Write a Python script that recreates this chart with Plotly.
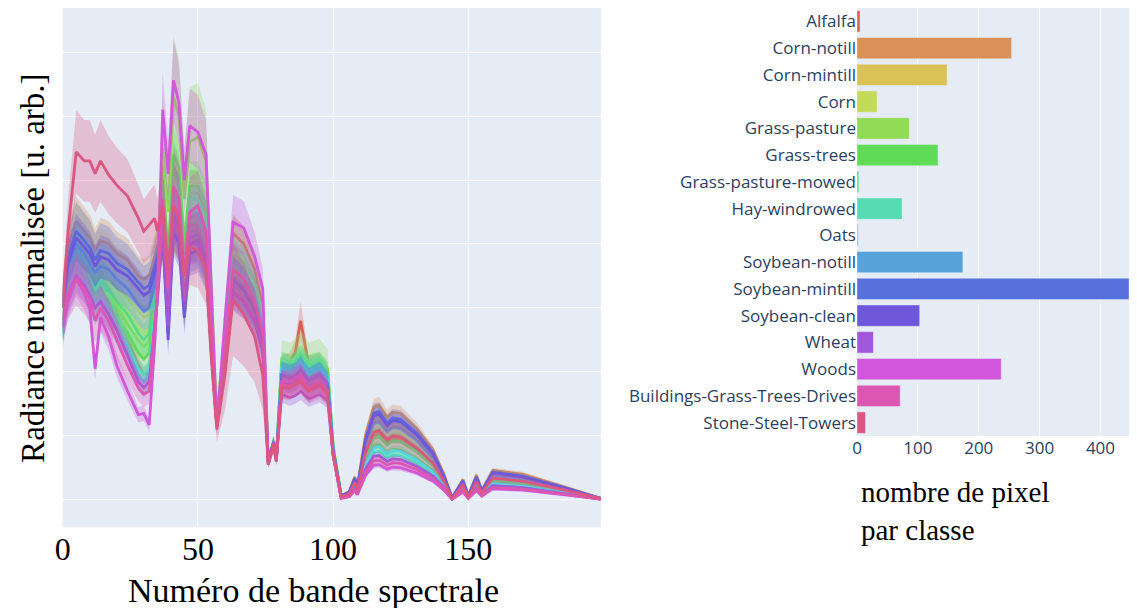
import plotly.graph_objects as go

# ---------------- data ----------------
CLASSES = ["Alfalfa", "Corn-notill", "Corn-mintill", "Corn", "Grass-pasture",
           "Grass-trees", "Grass-pasture-mowed", "Hay-windrowed", "Oats",
           "Soybean-notill", "Soybean-mintill", "Soybean-clean", "Wheat",
           "Woods", "Buildings-Grass-Trees-Drives", "Stone-Steel-Towers"]

PIXEL_COUNTS = [5, 254, 148, 33, 86, 133, 3, 74, 2, 174, 447, 103, 27, 237, 71, 14]

BANDS = [0, 2, 5, 8, 10, 12, 14, 17, 20, 24, 28, 30, 32, 34, 35,
         37, 39, 41, 43, 45, 47, 50, 53, 55,
         57, 60, 63, 67, 71, 74, 76, 78, 79,
         81, 84, 86, 88, 91, 95, 98, 100,
         103, 106, 108, 109, 112, 115, 117, 120, 122, 125, 131, 137, 141,
         144, 148, 150, 153, 155, 159, 170, 185, 199]

X_TICKS = [0, 50, 100, 150]
BAR_TICKS = [0, 100, 200, 300, 400]

MEAN_ALFALFA = [30, 35, 38, 36.5, 35, 33, 34, 32, 29, 25, 21, 19.5, 20, 31, 35,
                48, 36, 52, 50, 38, 48, 48, 45, 28,
                12, 26, 41.7, 40, 36, 30, 6, 9, 6.5,
                21, 21.5, 23, 28, 21, 21.5, 19.5, 8,
                0.5, 0.9, 2.6, 1.5, 7, 10, 10.3, 9, 9.6, 9.5, 7.8, 5.5, 2.8,
                0.3, 2.3, 0.5, 2.7, 1, 3.2, 2.8, 1.5, 0.2]
STD_ALFALFA = [2, 2.5, 2.7, 2.6, 2.5, 2.3, 2.4, 2.2, 2, 1.8, 1.5, 1.4, 1.4, 2.2, 2.5,
               3.4, 2.5, 3.6, 3.5, 2.7, 3.4, 3.4, 3.2, 2,
               0.8, 1.8, 2.9, 2.8, 2.5, 2.1, 0.5, 0.6, 0.5,
               1.5, 1.5, 2, 3, 1.5, 1.5, 1.4, 0.6,
               0.1, 0.2, 0.3, 0.2, 0.6, 0.8, 0.8, 0.7, 0.8, 0.8, 0.6, 0.4, 0.3,
               0.1, 0.2, 0.1, 0.2, 0.1, 0.3, 0.2, 0.1, 0.1]

MEAN_CORN_NOTILL = [32, 39.5, 43.5, 42, 41, 39, 40.5, 40, 38.5, 37.5, 35, 34.5, 35, 38, 39.5,
                    42, 27, 43, 41, 30, 41, 42, 39, 24,
                    12, 21, 35, 33, 30, 25, 6, 9, 6.5,
                    19.5, 19, 19.5, 20.5, 18.7, 19.6, 18, 7.8,
                    0.6, 1.3, 3.6, 2.2, 10.2, 14.5, 14.8, 12.9, 13.7, 13.5, 11.1, 7.8, 4,
                    0.3, 3.2, 0.6, 3.9, 1.5, 4.6, 4, 2.1, 0.2]
STD_CORN_NOTILL = [2.9, 3.6, 3.9, 3.8, 3.7, 3.5, 3.6, 3.6, 3.5, 3.4, 3.2, 3.1, 3.2, 3.4, 3.6,
                   3.8, 2.4, 3.9, 3.7, 2.7, 3.7, 3.8, 3.5, 2.2,
                   1, 1.9, 3.2, 3, 2.7, 2.3, 0.5, 0.8, 0.6,
                   1.8, 1.7, 1.8, 1.8, 1.7, 1.8, 1.6, 0.7,
                   0.1, 0.2, 0.4, 0.3, 0.9, 1.3, 1.3, 1.2, 1.2, 1.2, 1, 0.7, 0.4,
                   0.1, 0.3, 0.1, 0.4, 0.2, 0.4, 0.4, 0.2, 0.1]

MEAN_CORN_MINTILL = [31, 37, 40.5, 39, 38, 36, 37, 36, 34.5, 33, 31, 30, 30.5, 35, 37,
                     41, 26, 42, 40.5, 29, 40, 41.4, 38, 23,
                     12, 21, 33.6, 32, 29, 24.5, 6, 9, 6.5,
                     20, 19.5, 19.8, 20.8, 19, 20, 18.4, 8,
                     0.6, 1.1, 3.2, 1.9, 9, 12.8, 13.1, 11.4, 12.2, 12, 9.9, 6.9, 3.5,
                     0.3, 2.9, 0.6, 3.4, 1.3, 4.1, 3.5, 1.9, 0.2]
STD_CORN_MINTILL = [4.5, 5.5, 6, 5.9, 5.7, 5.4, 5.5, 5.4, 5.2, 5, 4.6, 4.5, 4.6, 5.2, 5.5,
                    3.3, 2.1, 3.4, 3.2, 2.3, 3.2, 3.3, 3, 1.8,
                    1, 1.7, 2.7, 2.6, 2.3, 2, 0.5, 0.7, 0.5,
                    1.6, 1.6, 1.6, 1.7, 1.5, 1.6, 1.5, 0.6,
                    0.1, 0.2, 0.3, 0.2, 0.7, 1, 1, 0.9, 1, 1, 0.8, 0.6, 0.3,
                    0.1, 0.2, 0.1, 0.3, 0.1, 0.3, 0.3, 0.2, 0.1]

MEAN_CORN = [30, 36, 39.5, 38, 36.5, 34.5, 35.5, 34.5, 33, 31.5, 29.5, 28.5, 29, 34, 36,
             44, 30, 46, 44, 33, 43, 43.5, 40, 25,
             12, 22.5, 36, 34.5, 31, 26, 6, 9, 6.5,
             20.5, 20, 20.3, 21.3, 19.6, 20.5, 19, 8.2,
             0.5, 1.1, 3.1, 1.8, 8.6, 12.2, 12.4, 10.8, 11.5, 11.3, 9.4, 6.6, 3.3,
             0.3, 2.7, 0.5, 3.2, 1.3, 3.9, 3.3, 1.8, 0.2]
STD_CORN = [3, 3.6, 4, 3.8, 3.7, 3.5, 3.6, 3.5, 3.3, 3.2, 3, 2.9, 2.9, 3.4, 3.6,
            4.4, 3, 4.6, 4.4, 3.3, 4.3, 4.4, 4, 2.5,
            1.2, 2.3, 3.6, 3.5, 3.1, 2.6, 0.6, 0.9, 0.7,
            2, 2, 2, 2.1, 2, 2, 1.9, 0.8,
            0.1, 0.2, 0.3, 0.2, 0.9, 1.2, 1.2, 1.1, 1.2, 1.1, 0.9, 0.7, 0.3,
            0.1, 0.3, 0.1, 0.3, 0.1, 0.4, 0.3, 0.2, 0.1]

MEAN_GRASS_PASTURE = [28, 34, 39, 37, 35, 33, 34, 32, 30, 27.5, 25, 24, 25, 33, 37,
                      55, 45, 63, 60, 47, 56, 56.7, 53, 33,
                      12.5, 27, 38.5, 37, 34, 29, 6.2, 9.2, 6.8,
                      22, 21.5, 22, 23, 21.5, 22, 20.5, 8.5,
                      0.5, 1, 2.7, 1.6, 7.6, 10.8, 11, 9.6, 10.2, 10.1, 8.3, 5.8, 3,
                      0.2, 2.4, 0.5, 2.9, 1.1, 3.4, 2.9, 1.6, 0.2]
STD_GRASS_PASTURE = [2.8, 3.4, 3.9, 3.7, 3.5, 3.3, 3.4, 3.2, 3, 2.8, 2.5, 2.4, 2.5, 3.3, 3.7,
                     8, 6.5, 9.5, 9, 7, 8.4, 8.5, 8, 5,
                     1.5, 4, 5.8, 5.5, 5, 4.3, 0.8, 1.3, 0.9,
                     3, 3, 3.2, 3.4, 3.1, 3.2, 3, 1.2,
                     0.1, 0.1, 0.3, 0.2, 0.8, 1.1, 1.1, 1, 1, 1, 0.8, 0.6, 0.3,
                     0.1, 0.2, 0.1, 0.3, 0.1, 0.3, 0.3, 0.2, 0.1]

MEAN_GRASS_TREES = [27, 33, 38, 36, 34, 32, 33, 31, 28.5, 26, 23, 22, 23, 31, 35,
                    50, 38, 54, 52, 40, 49, 49, 46, 28,
                    12.5, 25, 37, 35.5, 32, 27, 6, 9, 6.5,
                    21.5, 21, 21.5, 22.5, 21, 21.5, 20, 8.3,
                    0.4, 0.8, 2.1, 1.2, 5.9, 8.4, 8.6, 7.4, 7.9, 7.8, 6.4, 4.5, 2.3,
                    0.2, 1.9, 0.4, 2.2, 0.9, 2.7, 2.3, 1.2, 0.1]
STD_GRASS_TREES = [2.2, 2.6, 3, 2.9, 2.7, 2.6, 2.6, 2.5, 2.3, 2.1, 1.8, 1.8, 1.8, 2.5, 2.8,
                   4, 3, 4.3, 4.2, 3.2, 3.9, 3.9, 3.7, 2.2,
                   1, 2, 3, 2.8, 2.6, 2.2, 0.5, 0.7, 0.5,
                   1.7, 1.7, 1.7, 1.8, 1.7, 1.7, 1.6, 0.7,
                   0.1, 0.1, 0.2, 0.1, 0.5, 0.7, 0.7, 0.6, 0.6, 0.6, 0.5, 0.4, 0.2,
                   0.1, 0.2, 0.1, 0.2, 0.1, 0.2, 0.2, 0.1, 0.1]

MEAN_GRASS_MOWED = [28, 34, 38.5, 37, 35.5, 33.5, 34.5, 33, 31, 29, 26, 25, 26, 33, 36,
                    48, 35, 51, 49, 37, 47, 47, 44, 27,
                    12.5, 24, 37.5, 36, 32.5, 27.5, 6, 9, 6.5,
                    21, 20.5, 21, 22, 20.5, 21, 19.5, 8.2,
                    0.4, 0.9, 2.4, 1.4, 6.8, 9.7, 9.9, 8.6, 9.2, 9.1, 7.5, 5.3, 2.7,
                    0.2, 2.2, 0.4, 2.6, 1, 3.1, 2.7, 1.4, 0.1]
STD_GRASS_MOWED = [2.8, 3.4, 3.9, 3.7, 3.6, 3.4, 3.5, 3.3, 3.1, 2.9, 2.6, 2.5, 2.6, 3.3, 3.6,
                   4.8, 3.5, 5.1, 4.9, 3.7, 4.7, 4.7, 4.4, 2.7,
                   1.2, 2.4, 3.8, 3.6, 3.3, 2.8, 0.6, 0.9, 0.7,
                   2.1, 2.1, 2.1, 2.2, 2.1, 2.1, 2, 0.8,
                   0.1, 0.1, 0.2, 0.1, 0.7, 1, 1, 0.9, 0.9, 0.9, 0.8, 0.5, 0.3,
                   0.1, 0.2, 0.1, 0.3, 0.1, 0.3, 0.3, 0.1, 0.1]

MEAN_HAY = [26, 32, 37, 35, 33, 31, 32, 30, 27, 24, 20.5, 19.5, 20.5, 29, 33,
            47, 34, 49, 47, 36, 45, 45, 42, 26,
            12, 23.5, 36, 34.5, 31, 26, 6, 9, 6.5,
            20.5, 20, 20.3, 21.3, 19.8, 20.5, 19, 8,
            0.3, 0.7, 1.9, 1.1, 5.2, 7.4, 7.6, 6.6, 7, 6.9, 5.7, 4, 2,
            0.2, 1.7, 0.3, 2, 0.8, 2.4, 2, 1.1, 0.1]
STD_HAY = [1.8, 2.2, 2.6, 2.5, 2.3, 2.2, 2.2, 2.1, 1.9, 1.7, 1.4, 1.4, 1.4, 2, 2.3,
           3.3, 2.4, 3.4, 3.3, 2.5, 3.2, 3.2, 2.9, 1.8,
           0.8, 1.6, 2.5, 2.4, 2.2, 1.8, 0.4, 0.6, 0.5,
           1.4, 1.4, 1.4, 1.5, 1.4, 1.4, 1.3, 0.6,
           0.1, 0.1, 0.1, 0.1, 0.4, 0.5, 0.5, 0.5, 0.5, 0.5, 0.4, 0.3, 0.1,
           0.1, 0.1, 0.1, 0.1, 0.1, 0.2, 0.1, 0.1, 0.1]

MEAN_OATS = [26, 32, 36.5, 34.5, 32.5, 30.5, 31.5, 29.5, 27, 23.5, 19.5, 18.5, 19.5, 28, 32,
             46, 32, 48, 46, 35, 44, 45, 42, 26,
             12, 23.5, 37, 35.5, 32, 27, 6, 9, 6.5,
             20.5, 20, 20.5, 21.5, 20, 20.5, 19, 8,
             0.4, 0.7, 2, 1.2, 5.7, 8.1, 8.3, 7.2, 7.7, 7.6, 6.2, 4.4, 2.2,
             0.2, 1.8, 0.4, 2.2, 0.8, 2.6, 2.2, 1.2, 0.1]
STD_OATS = [2.6, 3.2, 3.7, 3.5, 3.3, 3.1, 3.2, 3, 2.7, 2.4, 2, 1.9, 2, 2.8, 3.2,
            4.6, 3.2, 4.8, 4.6, 3.5, 4.4, 4.5, 4.2, 2.6,
            1.2, 2.4, 3.7, 3.6, 3.2, 2.7, 0.6, 0.9, 0.7,
            2.1, 2, 2.1, 2.2, 2, 2.1, 1.9, 0.8,
            0.1, 0.1, 0.2, 0.1, 0.6, 0.8, 0.8, 0.7, 0.8, 0.8, 0.6, 0.4, 0.2,
            0.1, 0.2, 0.1, 0.2, 0.1, 0.3, 0.2, 0.1, 0.1]

MEAN_SOY_NOTILL = [30, 36.5, 40, 38.5, 37, 35.5, 36.5, 36, 34.5, 33, 30.5, 29.5, 30, 34, 36,
                   43, 28, 45, 43, 31, 41, 41.5, 38, 24,
                   12, 22, 34.5, 33, 30, 25.5, 6, 9, 6.5,
                   19.5, 19.2, 19.5, 20.4, 18.8, 19.6, 18.2, 7.8,
                   0.5, 1.1, 3, 1.8, 8.4, 11.9, 12.1, 10.6, 11.3, 11.1, 9.2, 6.4, 3.3,
                   0.3, 2.6, 0.5, 3.2, 1.2, 3.8, 3.3, 1.8, 0.2]
STD_SOY_NOTILL = [3, 3.7, 4, 3.9, 3.7, 3.6, 3.7, 3.6, 3.5, 3.3, 3.1, 3, 3, 3.4, 3.6,
                  4.3, 2.8, 4.5, 4.3, 3.1, 4.1, 4.2, 3.8, 2.4,
                  1.2, 2.2, 3.5, 3.3, 3, 2.6, 0.6, 0.9, 0.7,
                  2, 1.9, 2, 2, 1.9, 2, 1.8, 0.8,
                  0.1, 0.1, 0.3, 0.2, 0.8, 1.2, 1.2, 1.1, 1.1, 1.1, 0.9, 0.6, 0.3,
                  0.1, 0.3, 0.1, 0.3, 0.1, 0.4, 0.3, 0.2, 0.1]

MEAN_SOY_MINTILL = [31, 38, 42, 40.5, 39.5, 37.5, 39, 38.5, 37, 36, 34, 33, 33.5, 36.5, 38,
                    43, 26, 44.5, 42, 30, 40, 40.6, 37.5, 24,
                    12, 22, 34.4, 32.8, 29.7, 25, 6, 9, 6.5,
                    19.5, 19, 19.3, 20.3, 18.6, 19.5, 18, 7.8,
                    0.6, 1.2, 3.4, 2, 9.5, 13.5, 13.8, 12, 12.8, 12.6, 10.4, 7.3, 3.7,
                    0.3, 3, 0.6, 3.6, 1.4, 4.3, 3.7, 2, 0.2]
STD_SOY_MINTILL = [3.4, 4.2, 4.6, 4.5, 4.3, 4.1, 4.3, 4.2, 4.1, 4, 3.7, 3.6, 3.7, 4, 4.2,
                   4.7, 2.9, 4.9, 4.6, 3.3, 4.4, 4.5, 4.1, 2.6,
                   1.3, 2.4, 3.8, 3.6, 3.3, 2.8, 0.7, 1, 0.7,
                   2.1, 2.1, 2.1, 2.2, 2, 2.1, 2, 0.9,
                   0.1, 0.1, 0.4, 0.2, 1, 1.5, 1.5, 1.3, 1.4, 1.4, 1.1, 0.8, 0.4,
                   0.1, 0.3, 0.1, 0.4, 0.2, 0.5, 0.4, 0.2, 0.1]

MEAN_SOY_CLEAN = [30, 37, 41, 39.5, 38.5, 36.5, 38, 37.5, 36, 35, 33, 32, 32.5, 35.5, 37,
                  41, 25, 42, 40, 28.5, 38.5, 39, 36, 23,
                  11.5, 20.5, 32.5, 31, 28, 23.5, 5.8, 8.8, 6.3,
                  18.5, 18, 18.3, 19.2, 17.6, 18.5, 17, 7.4,
                  0.6, 1.2, 3.3, 1.9, 9.2, 13.1, 13.4, 11.6, 12.4, 12.2, 10.1, 7.1, 3.6,
                  0.3, 2.9, 0.6, 3.5, 1.4, 4.2, 3.6, 1.9, 0.2]
STD_SOY_CLEAN = [2.7, 3.3, 3.7, 3.6, 3.5, 3.3, 3.4, 3.4, 3.2, 3.2, 3, 2.9, 2.9, 3.2, 3.3,
                 3.7, 2.3, 3.8, 3.6, 2.6, 3.5, 3.5, 3.2, 2.1,
                 1, 1.8, 2.9, 2.8, 2.5, 2.1, 0.5, 0.8, 0.6,
                 1.7, 1.6, 1.6, 1.7, 1.6, 1.7, 1.5, 0.7,
                 0.1, 0.1, 0.3, 0.2, 0.8, 1.2, 1.2, 1, 1.1, 1.1, 0.9, 0.6, 0.3,
                 0.1, 0.3, 0.1, 0.3, 0.1, 0.4, 0.3, 0.2, 0.1]

MEAN_WHEAT = [27, 32, 35, 33.5, 32, 30, 31, 29, 26.5, 22.5, 18.5, 17.5, 18.5, 27, 31,
              42, 27, 44, 42, 31, 40, 40, 37, 23,
              11.5, 20.5, 32.5, 31, 28, 23.5, 5.8, 8.8, 6.3,
              16.5, 16, 16.3, 17, 15.8, 16.5, 15.5, 7,
              0.3, 0.6, 1.7, 1, 4.8, 6.8, 6.9, 6, 6.4, 6.3, 5.2, 3.7, 1.9,
              0.2, 1.5, 0.3, 1.8, 0.7, 2.2, 1.9, 1, 0.1]
STD_WHEAT = [2.2, 2.6, 2.8, 2.7, 2.6, 2.4, 2.5, 2.3, 2.1, 1.8, 1.5, 1.4, 1.5, 2.2, 2.5,
             3.4, 2.2, 3.5, 3.4, 2.5, 3.2, 3.2, 3, 1.8,
             0.9, 1.6, 2.6, 2.5, 2.2, 1.9, 0.5, 0.7, 0.5,
             1.3, 1.3, 1.3, 1.4, 1.3, 1.3, 1.2, 0.6,
             0.1, 0.1, 0.1, 0.1, 0.4, 0.5, 0.6, 0.5, 0.5, 0.5, 0.4, 0.3, 0.2,
             0.1, 0.1, 0.1, 0.1, 0.1, 0.2, 0.2, 0.1, 0.1]

MEAN_WOODS = [27, 31, 34.5, 32.3, 30, 20.5, 28.5, 25.5, 21, 17, 13.3, 13.5, 11.7, 24, 32,
              61, 51, 65.6, 62, 50, 58.5, 57.5, 54, 34,
              11.5, 28, 43.4, 42.5, 38, 33, 5.5, 8.5, 6,
              18.5, 18.5, 19, 19.5, 17.5, 18.5, 17, 7,
              0.2, 0.5, 1.4, 0.8, 3.8, 5.4, 5.5, 4.8, 5.1, 5, 4.2, 2.9, 1.5,
              0.1, 1.2, 0.2, 1.4, 0.6, 1.7, 1.5, 0.8, 0.1]
STD_WOODS = [2.2, 2.5, 2.8, 2.6, 2.4, 1.8, 2.3, 2.1, 1.8, 1.5, 1.2, 1.2, 1.1, 2.2, 2.8,
             6, 5, 6.5, 6.2, 5, 5.8, 5.8, 5.4, 3.4,
             1.1, 2.8, 4.3, 4.2, 3.8, 3.3, 0.5, 0.8, 0.6,
             1.8, 1.8, 1.9, 1.9, 1.7, 1.8, 1.7, 0.7,
             0.1, 0.1, 0.1, 0.1, 0.3, 0.5, 0.5, 0.4, 0.5, 0.5, 0.4, 0.3, 0.1,
             0.1, 0.1, 0.1, 0.1, 0.1, 0.2, 0.1, 0.1, 0.1]

MEAN_BUILDINGS = [28, 32, 34.5, 33, 31.5, 28, 30, 28, 25, 21, 17.5, 16.5, 17, 27, 32,
                  47, 33, 49, 47, 35, 45, 46, 42, 26,
                  11.5, 23, 36, 34.5, 31, 26, 5.8, 8.8, 6.3,
                  18, 17.8, 18.2, 19, 17.2, 18, 16.8, 7.2,
                  0.3, 0.5, 1.5, 0.9, 4.3, 6.1, 6.2, 5.4, 5.8, 5.7, 4.7, 3.3, 1.7,
                  0.1, 1.3, 0.3, 1.6, 0.6, 1.9, 1.7, 0.9, 0.1]
STD_BUILDINGS = [3.4, 3.8, 4.1, 4, 3.8, 3.4, 3.6, 3.4, 3, 2.5, 2.1, 2, 2, 3.2, 3.8,
                 5.6, 4, 5.9, 5.6, 4.2, 5.4, 5.5, 5, 3.1,
                 1.4, 2.8, 4.3, 4.1, 3.7, 3.1, 0.7, 1.1, 0.8,
                 2.2, 2.1, 2.2, 2.3, 2.1, 2.2, 2, 0.9,
                 0.1, 0.1, 0.2, 0.1, 0.5, 0.7, 0.7, 0.6, 0.7, 0.7, 0.6, 0.4, 0.2,
                 0.1, 0.2, 0.1, 0.2, 0.1, 0.2, 0.2, 0.1, 0.1]

MEAN_STONE = [30, 42, 54.4, 53, 53, 51, 53, 50.8, 49.2, 47.5, 44, 42, 43, 44, 42,
              46, 36, 46, 44, 35, 39.5, 39, 36, 22,
              11, 19.5, 31.3, 29, 25.5, 19.5, 5.5, 8.5, 6,
              17.5, 17.5, 18, 18.5, 17, 18, 16.5, 7,
              0.5, 0.9, 2.7, 1.6, 7.4, 10.5, 10.8, 9.4, 10, 9.8, 8.1, 5.7, 2.9,
              0.2, 2.3, 0.5, 2.8, 1.1, 3.4, 2.9, 1.6, 0.2]
STD_STONE = [3.6, 5, 6.5, 6.4, 6.4, 6.1, 6.4, 6.1, 5.9, 5.7, 5.3, 5, 5.2, 5.3, 5,
             6.9, 5.4, 6.9, 6.6, 5.3, 5.9, 5.9, 5.4, 3.3,
             2, 5.5, 8.8, 8.1, 7.1, 5.5, 0.6, 1, 0.7,
             1.8, 1.8, 1.8, 1.9, 1.7, 1.8, 1.7, 0.7,
             0.1, 0.2, 0.5, 0.3, 1.5, 2.1, 2.2, 1.9, 2, 2, 1.6, 1.1, 0.6,
             0.1, 0.5, 0.1, 0.6, 0.2, 0.7, 0.6, 0.3, 0.1]

# ---------------- styles ----------------
COLORS = ["#db5f57", "#db9057", "#dbc257", "#c3db57", "#91db57", "#60db57",
          "#57db80", "#57dbb1", "#57d3db", "#57a2db", "#5770db", "#6f57db",
          "#a157db", "#d257db", "#db57b2", "#db5781"]

MEANS = [MEAN_ALFALFA, MEAN_CORN_NOTILL, MEAN_CORN_MINTILL, MEAN_CORN,
         MEAN_GRASS_PASTURE, MEAN_GRASS_TREES, MEAN_GRASS_MOWED, MEAN_HAY,
         MEAN_OATS, MEAN_SOY_NOTILL, MEAN_SOY_MINTILL, MEAN_SOY_CLEAN,
         MEAN_WHEAT, MEAN_WOODS, MEAN_BUILDINGS, MEAN_STONE]
STDS = [STD_ALFALFA, STD_CORN_NOTILL, STD_CORN_MINTILL, STD_CORN,
        STD_GRASS_PASTURE, STD_GRASS_TREES, STD_GRASS_MOWED, STD_HAY,
        STD_OATS, STD_SOY_NOTILL, STD_SOY_MINTILL, STD_SOY_CLEAN,
        STD_WHEAT, STD_WOODS, STD_BUILDINGS, STD_STONE]

for name, m, s in zip(CLASSES, MEANS, STDS):
    if len(m) != len(BANDS) or len(s) != len(BANDS):
        raise ValueError(f"{name}: {len(m)} / {len(s)} vs {len(BANDS)}")


def rgba(hex_color, a):
    h = hex_color.lstrip("#")
    r, g, b = int(h[0:2], 16), int(h[2:4], 16), int(h[4:6], 16)
    return f"rgba({r},{g},{b},{a})"


# The page body has an 8px margin: the figure is sized so that it fits in the
# 1137x608 window, and positions are given in window pixels.
OFF = 8
W, H = 1137 - OFF, 608 - OFF


def fx(px):
    return min(1.0, max(0.0, (px - OFF) / W))


def fy(py):
    return min(1.0, max(0.0, (H - (py - OFF)) / H))


SERIF = "Liberation Serif"
fig = go.Figure()

for name, m, s, c in zip(CLASSES, MEANS, STDS, COLORS):
    upper = [a + b for a, b in zip(m, s)]
    lower = [a - b for a, b in zip(m, s)]
    fig.add_trace(go.Scatter(
        x=BANDS + BANDS[::-1], y=upper + lower[::-1],
        fill="toself", fillcolor=rgba(c, 0.3), line=dict(width=0),
        mode="lines", hoverinfo="skip", showlegend=False,
        xaxis="x", yaxis="y"))
    fig.add_trace(go.Scatter(
        x=BANDS, y=m, mode="lines", name=name,
        line=dict(color=c, width=2.8), showlegend=False,
        xaxis="x", yaxis="y"))

fig.add_trace(go.Bar(
    x=PIXEL_COUNTS, y=CLASSES, orientation="h",
    marker=dict(color=COLORS, line=dict(color="#E5ECF6", width=0.5)),
    showlegend=False, xaxis="x2", yaxis="y2"))

fig.update_layout(
    template="plotly",
    width=W, height=H,
    margin=dict(l=0, r=0, t=0, b=0),
    paper_bgcolor="white", plot_bgcolor="#E5ECF6",
    showlegend=False,
    bargap=0.2,
    xaxis=dict(domain=[fx(55), fx(597)], range=[0, 199], anchor="y",
               tickmode="array", tickvals=X_TICKS,
               ticktext=[str(t) for t in X_TICKS],
               tickfont=dict(family=SERIF, size=32, color="black"),
               showgrid=True, gridcolor="white", gridwidth=1,
               zeroline=False, ticks="", showline=False),
    yaxis=dict(domain=[fy(527.3), 1.0], range=[-4.3, 76.9],
               anchor="x", tick0=0, dtick=10, showticklabels=False,
               showgrid=True, gridcolor="white", gridwidth=1,
               zeroline=False, ticks=""),
    xaxis2=dict(domain=[fx(855), 1.0], range=[0, 460], anchor="y2",
                tickmode="array", tickvals=BAR_TICKS,
                tickfont=dict(family="Open Sans", size=17, color="#2a3f5f"),
                showgrid=True, gridcolor="white", zeroline=False, ticks=""),
    yaxis2=dict(domain=[fy(436), 1.0], anchor="x2",
                type="category", autorange="reversed",
                tickfont=dict(family="Open Sans", size=17, color="#2a3f5f"),
                showgrid=False, ticks=""),
    annotations=[
        dict(text="Numéro de bande spectrale", x=fx(308), y=fy(590),
             xref="paper", yref="paper", xanchor="center", yanchor="middle",
             showarrow=False, font=dict(family=SERIF, size=34, color="black")),
        dict(text="Radiance normalisée [u. arb.]", x=fx(25), y=fy(268),
             xref="paper", yref="paper", xanchor="center", yanchor="middle",
             textangle=-90, showarrow=False,
             font=dict(family=SERIF, size=33, color="black")),
        dict(text="nombre de pixel<br>par classe", x=fx(857), y=fy(511),
             xref="paper", yref="paper", xanchor="left", yanchor="middle",
             align="left", showarrow=False,
             font=dict(family=SERIF, size=29, color="black")),
    ],
)

fig.write_html("out.html")
